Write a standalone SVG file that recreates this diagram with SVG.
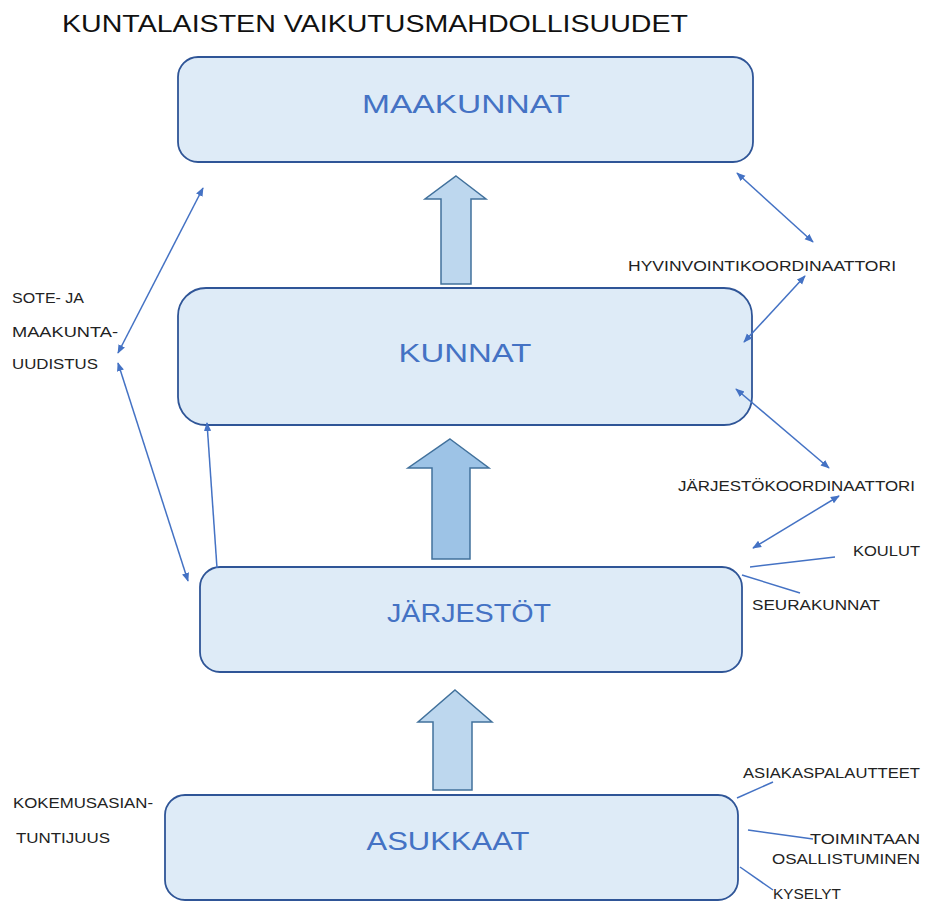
<svg xmlns="http://www.w3.org/2000/svg" width="925" height="902" viewBox="0 0 925 902">
<defs>
<marker id="ah" viewBox="0 0 10 10" refX="9" refY="5" markerWidth="9" markerHeight="9" markerUnits="userSpaceOnUse" orient="auto-start-reverse">
<path d="M0,1 L10,5 L0,9 z" fill="#4472C4"/>
</marker>
<style>
.box{fill:#DEEBF7;stroke:#2F5597;stroke-width:1.8}
.bt{font-family:"Liberation Sans",Arial,sans-serif;font-size:26px;fill:#4472C4;text-anchor:middle}
.lb{font-family:"Liberation Sans",Arial,sans-serif;font-size:14px;fill:#222}
.ti{font-family:"Liberation Sans",Arial,sans-serif;font-size:24px;fill:#111}
.con{stroke:#4472C4;stroke-width:1.5;fill:none}
.bl{stroke:#41719C;stroke-width:1.5}
</style>
</defs>
<rect width="925" height="902" fill="#fff"/>
<text class="ti" x="62" y="32" textLength="626" lengthAdjust="spacingAndGlyphs">KUNTALAISTEN VAIKUTUSMAHDOLLISUUDET</text>

<g id="maakunnat">
<rect class="box" x="178" y="57" width="575" height="105" rx="20"/>
<text class="bt" x="466" y="113" textLength="208" lengthAdjust="spacingAndGlyphs">MAAKUNNAT</text>
</g>
<g id="kunnat">
<rect class="box" x="178" y="288" width="574" height="137" rx="28"/>
<text class="bt" x="465" y="362" textLength="133" lengthAdjust="spacingAndGlyphs">KUNNAT</text>
</g>
<g id="jarjestot">
<rect class="box" x="200" y="567" width="542" height="105" rx="20"/>
<text class="bt" x="469" y="622" textLength="164" lengthAdjust="spacingAndGlyphs">JÄRJESTÖT</text>
</g>
<g id="asukkaat">
<rect class="box" x="165" y="795" width="573" height="105" rx="20"/>
<text class="bt" x="448" y="850" textLength="163" lengthAdjust="spacingAndGlyphs">ASUKKAAT</text>
</g>

<g id="block-arrows">
<polygon class="bl" fill="#BDD7EE" points="456,176 486,199 471,199 471,284 441,284 441,199 425,199"/>
<polygon class="bl" fill="#9DC3E6" points="450,439 489,468 470,468 470,559 432,559 432,468 408,468"/>
<polygon class="bl" fill="#BDD7EE" points="455,690 492,722 472,722 472,790 433,790 433,722 418,722"/>
</g>

<g id="labels">
<text class="lb" x="628" y="271" textLength="268" lengthAdjust="spacingAndGlyphs">HYVINVOINTIKOORDINAATTORI</text>
<text class="lb" x="678" y="491" textLength="237" lengthAdjust="spacingAndGlyphs">JÄRJESTÖKOORDINAATTORI</text>
<text class="lb" x="853" y="556" textLength="67" lengthAdjust="spacingAndGlyphs">KOULUT</text>
<text class="lb" x="752" y="610" textLength="128" lengthAdjust="spacingAndGlyphs">SEURAKUNNAT</text>
<text class="lb" x="743" y="778" textLength="177" lengthAdjust="spacingAndGlyphs">ASIAKASPALAUTTEET</text>
<text class="lb" x="810" y="844" textLength="110" lengthAdjust="spacingAndGlyphs">TOIMINTAAN</text>
<text class="lb" x="772" y="864" textLength="148" lengthAdjust="spacingAndGlyphs">OSALLISTUMINEN</text>
<text class="lb" x="773" y="899" textLength="68" lengthAdjust="spacingAndGlyphs">KYSELYT</text>
<text class="lb" x="12" y="303" textLength="72" lengthAdjust="spacingAndGlyphs">SOTE- JA</text>
<text class="lb" x="12" y="337" textLength="106" lengthAdjust="spacingAndGlyphs">MAAKUNTA-</text>
<text class="lb" x="12" y="369" textLength="86" lengthAdjust="spacingAndGlyphs">UUDISTUS</text>
<text class="lb" x="13" y="808" textLength="140" lengthAdjust="spacingAndGlyphs">KOKEMUSASIAN-</text>
<text class="lb" x="16" y="843" textLength="94" lengthAdjust="spacingAndGlyphs">TUNTIJUUS</text>
</g>

<g id="connectors">
<line class="con" x1="737" y1="173" x2="813" y2="242" marker-start="url(#ah)" marker-end="url(#ah)"/>
<line class="con" x1="744" y1="342" x2="805" y2="276" marker-start="url(#ah)" marker-end="url(#ah)"/>
<line class="con" x1="736" y1="389" x2="829" y2="468" marker-start="url(#ah)" marker-end="url(#ah)"/>
<line class="con" x1="753" y1="548" x2="839" y2="496" marker-start="url(#ah)" marker-end="url(#ah)"/>
<line class="con" x1="750" y1="567" x2="835" y2="557"/>
<line class="con" x1="742" y1="575" x2="800" y2="593"/>
<line class="con" x1="737" y1="798" x2="773" y2="782"/>
<line class="con" x1="748" y1="830" x2="813" y2="839"/>
<line class="con" x1="740" y1="867" x2="773" y2="890"/>
<line class="con" x1="203" y1="188" x2="118" y2="353" marker-start="url(#ah)" marker-end="url(#ah)"/>
<line class="con" x1="118" y1="363" x2="188" y2="581" marker-start="url(#ah)" marker-end="url(#ah)"/>
<line class="con" x1="217" y1="568" x2="207" y2="423" marker-end="url(#ah)"/>
</g>
</svg>
